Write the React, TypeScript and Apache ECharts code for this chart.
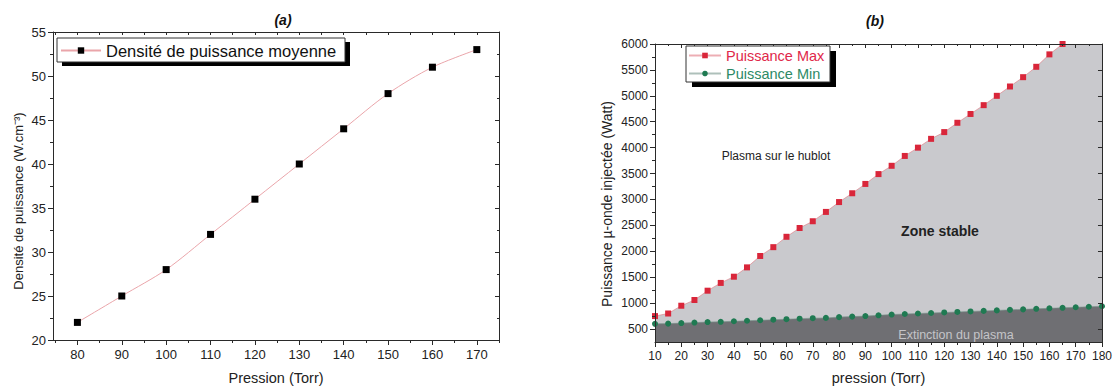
import React, { useEffect, useRef } from "react";
import * as echarts from "echarts";

// ---- Chart (a) data ----
const pressionA = [80, 90, 100, 110, 120, 130, 140, 150, 160, 170];
const densiteMoyenne = [22, 25, 28, 32, 36, 40, 44, 48, 51, 53];
const xTicksA = [80, 90, 100, 110, 120, 130, 140, 150, 160, 170];
const xMinorA = [75, 85, 95, 105, 115, 125, 135, 145, 155, 165, 175];
const xAllA = [75, 80, 85, 90, 95, 100, 105, 110, 115, 120, 125, 130, 135, 140, 145, 150, 155, 160, 165, 170, 175];

// ---- Chart (b) data ----
const pressionB = [10, 15, 20, 25, 30, 35, 40, 45, 50, 55, 60, 65, 70, 75, 80, 85, 90, 95, 100, 105, 110, 115, 120, 125, 130, 135, 140, 145, 150, 155, 160, 165, 170, 175, 180];
const puissanceMax = [750, 800, 950, 1060, 1240, 1390, 1510, 1690, 1910, 2080, 2280, 2450, 2580, 2760, 2950, 3120, 3300, 3490, 3650, 3840, 4000, 4170, 4300, 4480, 4650, 4820, 5000, 5180, 5360, 5560, 5800, 6000];
const puissanceMin = [600, 605, 615, 625, 635, 640, 650, 660, 670, 680, 690, 700, 710, 715, 730, 740, 750, 765, 780, 790, 800, 810, 820, 830, 840, 850, 860, 870, 880, 890, 900, 910, 920, 930, 940];
const yTicksB = [500, 1000, 1500, 2000, 2500, 3000, 3500, 4000, 4500, 5000, 5500, 6000];
const yMinorB = [750, 1250, 1750, 2250, 2750, 3250, 3750, 4250, 4750, 5250, 5750];
const yMinB = 250;
const yMaxB = 6000;

const FONT = "Liberation Sans, Arial, sans-serif";
const AXIS_COLOR = "#2a2a2a";

export default function App() {
  const ref = useRef<HTMLDivElement>(null);

  useEffect(() => {
    if (!ref.current) return;
    const chart = echarts.init(ref.current, undefined, { renderer: "svg" });

    const lineA = pressionA.map((p, i) => [p, densiteMoyenne[i]]);
    const maxB = puissanceMax.map((v, i) => [pressionB[i], v]);
    const minB = puissanceMin.map((v, i) => [pressionB[i], v]);
    const stableFill = pressionB.map((p, i) => [p, i < puissanceMax.length ? puissanceMax[i] : yMaxB]);

    const baseLine = { show: true, lineStyle: { color: AXIS_COLOR, width: 1 } };
    const noLabel = { show: false };
    const plain = (v: number) => String(v);

    const option: any = {
      animation: false,
      textStyle: { fontFamily: FONT },
      grid: [
        { left: 53, top: 32, width: 446, height: 311 },
        { left: 655, top: 44, width: 448, height: 301 },
      ],
      xAxis: [
        {
          gridIndex: 0, type: "value", position: "bottom", min: 74.5, max: 175, z: 5,
          axisLine: baseLine,
          axisTick: { show: true, length: 5, customValues: xTicksA, lineStyle: { color: AXIS_COLOR } },
          axisLabel: { customValues: xTicksA, fontSize: 13, color: "#222", margin: 8, formatter: plain },
          splitLine: { show: false },
          name: "Pression (Torr)", nameLocation: "middle", nameGap: 30,
          nameTextStyle: { fontSize: 14.5, color: "#222" },
        },
        {
          gridIndex: 0, type: "value", position: "bottom", min: 74.5, max: 175, z: 5,
          axisLine: { show: false },
          axisTick: { show: true, length: 3, customValues: xMinorA, lineStyle: { color: AXIS_COLOR } },
          axisLabel: { show: false, customValues: xMinorA },
          splitLine: { show: false },
        },
        {
          gridIndex: 0, type: "value", position: "top", min: 74.5, max: 175, z: 5,
          axisLine: baseLine,
          axisTick: { show: true, inside: true, length: 3, customValues: xAllA, lineStyle: { color: AXIS_COLOR } },
          axisLabel: { show: false, customValues: xAllA },
          splitLine: { show: false },
        },
        {
          gridIndex: 1, type: "value", position: "bottom", min: 10, max: 180, interval: 10, z: 5,
          axisLine: baseLine,
          axisTick: { show: true, length: 5, lineStyle: { color: AXIS_COLOR } },
          minorTick: { show: true, splitNumber: 2, length: 3, lineStyle: { color: AXIS_COLOR } },
          axisLabel: { fontSize: 12, color: "#222", margin: 8, formatter: plain },
          splitLine: { show: false },
          name: "pression (Torr)", nameLocation: "middle", nameGap: 28,
          nameTextStyle: { fontSize: 14.5, color: "#222" },
        },
        {
          gridIndex: 1, type: "value", position: "top", min: 10, max: 180, interval: 10, z: 5,
          axisLine: baseLine,
          axisTick: { show: true, inside: true, length: 4, lineStyle: { color: AXIS_COLOR } },
          minorTick: { show: true, splitNumber: 2, length: 2, lineStyle: { color: AXIS_COLOR } },
          axisLabel: noLabel,
          splitLine: { show: false },
        },
      ],
      yAxis: [
        {
          gridIndex: 0, type: "value", position: "left", min: 20, max: 55, interval: 5, z: 5,
          axisLine: baseLine,
          axisTick: { show: true, length: 5, lineStyle: { color: AXIS_COLOR } },
          minorTick: { show: true, splitNumber: 2, length: 3, lineStyle: { color: AXIS_COLOR } },
          axisLabel: { fontSize: 13, color: "#222", margin: 7, formatter: plain },
          splitLine: { show: false },
        },
        {
          gridIndex: 0, type: "value", position: "right", min: 20, max: 55, interval: 5, z: 5,
          axisLine: baseLine,
          axisTick: { show: true, inside: true, length: 4, lineStyle: { color: AXIS_COLOR } },
          minorTick: { show: true, splitNumber: 2, length: 2, lineStyle: { color: AXIS_COLOR } },
          axisLabel: noLabel,
          splitLine: { show: false },
        },
        {
          gridIndex: 1, type: "value", position: "left", min: yMinB, max: yMaxB, z: 5,
          axisLine: baseLine,
          axisTick: { show: true, length: 5, customValues: yTicksB, lineStyle: { color: AXIS_COLOR } },
          axisLabel: { customValues: yTicksB, fontSize: 12, color: "#222", margin: 7, formatter: plain },
          splitLine: { show: false },
        },
        {
          gridIndex: 1, type: "value", position: "left", min: yMinB, max: yMaxB, z: 5,
          axisLine: { show: false },
          axisTick: { show: true, length: 3, customValues: yMinorB, lineStyle: { color: AXIS_COLOR } },
          axisLabel: { show: false, customValues: yMinorB },
          splitLine: { show: false },
        },
        {
          gridIndex: 1, type: "value", position: "right", min: yMinB, max: yMaxB, z: 5,
          axisLine: baseLine,
          axisTick: { show: true, inside: true, length: 4, customValues: yTicksB, lineStyle: { color: AXIS_COLOR } },
          axisLabel: { show: false, customValues: yTicksB },
          splitLine: { show: false },
        },
      ],
      legend: [
        {
          left: 60, top: 42, itemWidth: 40, itemHeight: 8, padding: 0, z: 30,
          data: ["Densité de puissance moyenne"],
          textStyle: { fontSize: 16.5, color: "#111", fontFamily: FONT },
        },
        {
          left: 688, top: 48, orient: "vertical", itemWidth: 32, itemHeight: 7, itemGap: 3, padding: 0, z: 30,
          data: [
            { name: "Puissance Max", textStyle: { color: "#e0284a" } },
            { name: "Puissance Min", textStyle: { color: "#2d8a66" } },
          ],
          textStyle: { fontSize: 14.5, fontFamily: FONT },
        },
      ],
      graphic: [
        { type: "rect", z: 10, shape: { x: 62, y: 42, width: 288, height: 24 }, style: { fill: "#000" } },
        { type: "rect", z: 11, shape: { x: 57, y: 38, width: 288, height: 24 }, style: { fill: "#fff", stroke: "#333", lineWidth: 1 } },
        { type: "rect", z: 10, shape: { x: 692, y: 51, width: 144, height: 36 }, style: { fill: "#000" } },
        { type: "rect", z: 11, shape: { x: 686, y: 46, width: 144, height: 36 }, style: { fill: "#fff", stroke: "#333", lineWidth: 1 } },
        { type: "text", z: 12, x: 283, y: 20, style: { text: "(a)", font: "italic bold 14px " + FONT, fill: "#111", textAlign: "center", textVerticalAlign: "middle" } },
        { type: "text", z: 12, x: 875, y: 21, style: { text: "(b)", font: "italic bold 14px " + FONT, fill: "#111", textAlign: "center", textVerticalAlign: "middle" } },
        { type: "text", z: 12, x: 18, y: 201, rotation: Math.PI / 2, style: { text: "Densité de puissance (W.cm⁻³)", font: "13px " + FONT, fill: "#222", textAlign: "center", textVerticalAlign: "middle" } },
        { type: "text", z: 12, x: 607, y: 204, rotation: Math.PI / 2, style: { text: "Puissance µ-onde injectée (Watt)", font: "14px " + FONT, fill: "#222", textAlign: "center", textVerticalAlign: "middle" } },
        { type: "text", z: 12, x: 776, y: 156, style: { text: "Plasma sur le hublot", font: "12px " + FONT, fill: "#222", textAlign: "center", textVerticalAlign: "middle" } },
        { type: "text", z: 12, x: 940, y: 231, style: { text: "Zone stable", font: "bold 14px " + FONT, fill: "#222", textAlign: "center", textVerticalAlign: "middle" } },
        { type: "text", z: 12, x: 956, y: 335, style: { text: "Extinction du plasma", font: "12.5px " + FONT, fill: "#c4c4c8", textAlign: "center", textVerticalAlign: "middle" } },
      ],
      series: [
        {
          name: "Densité de puissance moyenne", type: "line", xAxisIndex: 0, yAxisIndex: 0,
          data: lineA, smooth: 0.3, symbol: "rect", symbolSize: 7, z: 3,
          lineStyle: { color: "#eaa5aa", width: 1 },
          itemStyle: { color: "#000" },
        },
        {
          name: "stable", type: "line", xAxisIndex: 3, yAxisIndex: 2, data: stableFill,
          showSymbol: false, symbol: "none", silent: true, z: 1,
          lineStyle: { width: 0 }, areaStyle: { color: "#c9c9cd", opacity: 1 },
        },
        {
          name: "extinction", type: "line", xAxisIndex: 3, yAxisIndex: 2, data: minB,
          showSymbol: false, symbol: "none", silent: true, z: 1,
          lineStyle: { width: 0 }, areaStyle: { color: "#6f6f73", opacity: 1 },
        },
        {
          name: "Puissance Max", type: "line", xAxisIndex: 3, yAxisIndex: 2, data: maxB,
          symbol: "rect", symbolSize: 6, z: 3,
          lineStyle: { color: "rgba(225,120,130,0.6)", width: 1 },
          itemStyle: { color: "#d9263a" },
        },
        {
          name: "Puissance Min", type: "line", xAxisIndex: 3, yAxisIndex: 2, data: minB,
          symbol: "circle", symbolSize: 6, z: 3,
          lineStyle: { color: "rgba(120,150,140,0.6)", width: 1 },
          itemStyle: { color: "#1f7a52" },
        },
      ],
    };

    chart.setOption(option);
    return () => chart.dispose();
  }, []);

  return (
    <div
      ref={ref}
      style={{ position: "absolute", left: 0, top: 0, width: 1115, height: 390, background: "#fff" }}
    />
  );
}
